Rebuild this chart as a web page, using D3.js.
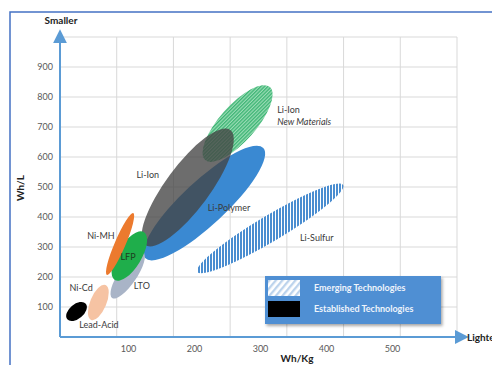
<!DOCTYPE html>
<html>
<head>
<meta charset="utf-8">
<script src="https://cdn.jsdelivr.net/npm/d3@7"></script>
<style>
  body { margin: 0; background: #fff; }
  svg { display: block; font-family: Lato, "Open Sans", sans-serif; }
</style>
</head>
<body>
<div id="chart"></div>
<script>
// battery technologies, drawn back to front
const techs = ["Li-Sulfur", "Li-Ion New Materials", "Li-Polymer", "Li-Ion", "LTO", "LFP", "Ni-MH", "Ni-Cd", "Lead-Acid"];
const whkgLow = [205, 217, 126, 126, 76, 80, 68, 44, 8];
const whkgHigh = [426, 315, 305, 255, 123, 124, 108, 66, 36];
const whlLow = [217, 590, 263, 307, 130, 190, 207, 57, 59];
const whlHigh = [507, 833, 630, 690, 283, 350, 413, 173, 111];
const spread = [43, 60, 73, 73, 30, 40, 18, 27, 24];
const fills = ["url(#vstripe)", "url(#greenhatch)", "#3a89d2", "#444", "#a9b4c7", "#1fae4b", "#ec7a2e", "#f6c3a3", "#000"];
const opac = [1, 1, 1, 0.78, 1, 1, 1, 1, 1];

// label anchors in data units
const labelText = ["Li-Sulfur", "Li-Polymer", "Li-Ion", "LTO", "LFP", "Ni-MH", "Ni-Cd", "Lead-Acid"];
const labelKg = [386, 253, 130, 121, 100, 59, 29, 56];
const labelL = [330, 430, 540, 170, 267, 337, 163, 40];

const xTicks = [100, 200, 300, 400, 500];
const yTicks = [100, 200, 300, 400, 500, 600, 700, 800, 900];
const yGrid = [100, 200, 300, 400, 500, 600, 700, 800, 900, 1000];
const legendItems = ["Emerging Technologies", "Established Technologies"];

const W = 492, H = 365;
const svg = d3.select("#chart").append("svg")
  .attr("width", W).attr("height", H);

const defs = svg.append("defs");
const vs = defs.append("pattern").attr("id", "vstripe")
  .attr("patternUnits", "userSpaceOnUse").attr("width", 3).attr("height", 4);
vs.append("rect").attr("width", 3).attr("height", 4).attr("fill", "#fff");
vs.append("rect").attr("width", 2).attr("height", 4).attr("fill", "#4a8dd0")
  .attr("shape-rendering", "crispEdges");

const gh = defs.append("pattern").attr("id", "greenhatch")
  .attr("patternUnits", "userSpaceOnUse").attr("width", 2.5).attr("height", 2.5)
  .attr("patternTransform", "rotate(45)");
gh.append("rect").attr("width", 2.5).attr("height", 2.5).attr("fill", "#9bdcb6");
gh.append("rect").attr("width", 1.3).attr("height", 2.5).attr("fill", "#3db574");

const lh = defs.append("pattern").attr("id", "legendhatch")
  .attr("patternUnits", "userSpaceOnUse").attr("width", 5).attr("height", 5)
  .attr("patternTransform", "rotate(40)");
lh.append("rect").attr("width", 5).attr("height", 5).attr("fill", "#fff");
lh.append("rect").attr("width", 2.3).attr("height", 5).attr("fill", "#bcd3ec");

const shadow = defs.append("filter").attr("id", "shadow")
  .attr("x", "-10%").attr("y", "-20%").attr("width", "130%").attr("height", "150%");
shadow.append("feDropShadow").attr("dx", 1.5).attr("dy", 2).attr("stdDeviation", 1.5)
  .attr("flood-color", "#000").attr("flood-opacity", 0.35);

// outer frame
svg.append("rect")
  .attr("x", 10).attr("y", 12).attr("width", 500).attr("height", 400)
  .attr("fill", "none").attr("stroke", "#4472c4").attr("stroke-width", 1.5);

const x = d3.scaleLinear().domain([0, 500]).range([62, 392]);
const y = d3.scaleLinear().domain([0, 1000]).range([337, 37]);
const gridX = d3.scaleLinear().domain([0, 7]).range([60, 457]);

// grid
svg.append("g").selectAll("line")
  .data(yGrid).join("line")
  .attr("x1", 60).attr("x2", 457)
  .attr("y1", d => y(d)).attr("y2", d => y(d))
  .attr("stroke", "#d9d9d9").attr("stroke-width", 1);
svg.append("g").selectAll("line")
  .data(d3.range(1, 8)).join("line")
  .attr("x1", d => gridX(d)).attr("x2", d => gridX(d))
  .attr("y1", y(1000)).attr("y2", y(0))
  .attr("stroke", "#d9d9d9").attr("stroke-width", 1);

// ellipses, as arc paths so the patterns stay unrotated
const blobs = techs.map((t, i) => {
  const p0 = [x(whkgLow[i]), y(whlLow[i])];
  const p1 = [x(whkgHigh[i]), y(whlHigh[i])];
  const rx = Math.hypot(p1[0] - p0[0], p1[1] - p0[1]) / 2;
  const ry = y(0) - y(spread[i]);
  const ang = Math.atan2(p1[1] - p0[1], p1[0] - p0[0]) * 180 / Math.PI;
  return {
    name: t,
    d: `M${p0[0]},${p0[1]} A${rx},${ry} ${ang} 1 1 ${p1[0]},${p1[1]} A${rx},${ry} ${ang} 1 1 ${p0[0]},${p0[1]} Z`,
    fill: fills[i],
    opacity: opac[i]
  };
});

svg.append("g").selectAll("path")
  .data(blobs).join("path")
  .attr("d", d => d.d)
  .attr("fill", d => d.fill)
  .attr("fill-opacity", d => d.opacity);

// axes
const axisCol = "#5b9bd5";
defs.append("marker").attr("id", "arrow")
  .attr("viewBox", "0 0 10 10").attr("refX", 8).attr("refY", 5)
  .attr("markerWidth", 7).attr("markerHeight", 7).attr("orient", "auto")
  .append("path").attr("d", "M0,0 L10,5 L0,10 z").attr("fill", axisCol);
svg.append("line")
  .attr("x1", 60).attr("y1", y(0)).attr("x2", 60).attr("y2", 32)
  .attr("stroke", axisCol).attr("stroke-width", 2).attr("marker-end", "url(#arrow)");
svg.append("line")
  .attr("x1", 60).attr("y1", y(0)).attr("x2", 466).attr("y2", y(0))
  .attr("stroke", axisCol).attr("stroke-width", 2).attr("marker-end", "url(#arrow)");

const yAxis = svg.append("g")
  .attr("transform", "translate(53,0)")
  .call(d3.axisLeft(y).tickValues(yTicks).tickSize(0).tickPadding(0));
yAxis.select(".domain").remove();
yAxis.selectAll("text")
  .attr("fill", "#595959").style("font-size", "9px")
  .style("font-family", "Lato, sans-serif");

const xAxis = svg.append("g")
  .attr("transform", `translate(0,${y(0) + 9})`)
  .call(d3.axisBottom(x).tickValues(xTicks).tickSize(0).tickPadding(0));
xAxis.select(".domain").remove();
xAxis.selectAll("text")
  .attr("fill", "#595959").style("font-size", "9px")
  .style("font-family", "Lato, sans-serif");

// axis titles
svg.append("text").text("Smaller")
  .attr("x", 61).attr("y", 24).attr("text-anchor", "middle")
  .style("font-size", "10px").style("font-weight", "bold").attr("fill", "#222");
svg.append("text").text("Lighter")
  .attr("x", 467).attr("y", 341)
  .style("font-size", "10px").style("font-weight", "bold").attr("fill", "#222");
svg.append("text").text("Wh/Kg")
  .attr("x", 297).attr("y", 362).attr("text-anchor", "middle")
  .style("font-size", "10px").style("font-weight", "bold").attr("fill", "#222");
svg.append("text").text("Wh/L")
  .attr("transform", "translate(24,188) rotate(-90)").attr("text-anchor", "middle")
  .style("font-size", "10px").style("font-weight", "bold").attr("fill", "#222");

// ellipse labels
svg.append("g").selectAll("text")
  .data(labelText).join("text")
  .text(d => d)
  .attr("x", (d, i) => x(labelKg[i]))
  .attr("y", (d, i) => y(labelL[i]))
  .attr("dy", "0.35em")
  .attr("text-anchor", "middle")
  .attr("fill", d => d === "LFP" ? "#1d3d20" : "#3a3a3a")
  .style("font-size", "9px");

const nm = svg.append("text")
  .attr("x", x(326)).attr("y", y(757)).attr("dy", "0.35em")
  .attr("fill", "#3a3a3a").style("font-size", "9px");
nm.append("tspan").text("Li-Ion");
nm.append("tspan").text("New Materials")
  .attr("x", x(326)).attr("dy", "1.35em").style("font-style", "italic");

// legend
const lg = svg.append("g").attr("transform", "translate(265,276)");
lg.append("rect").attr("width", 176).attr("height", 48)
  .attr("fill", "#4f8fd3").attr("filter", "url(#shadow)");
lg.selectAll(".sw")
  .data(legendItems).join("rect")
  .attr("class", "sw")
  .attr("x", 3).attr("y", (d, i) => 4 + i * 21)
  .attr("width", 32).attr("height", 16)
  .attr("fill", (d, i) => i === 0 ? "url(#legendhatch)" : "#000");
lg.selectAll(".lt")
  .data(legendItems).join("text")
  .attr("class", "lt")
  .text(d => d)
  .attr("x", 49).attr("y", (d, i) => 12 + i * 21).attr("dy", "0.35em")
  .attr("fill", "#eef4fb").style("font-size", "9px").style("font-weight", "bold");
</script>
</body>
</html>
